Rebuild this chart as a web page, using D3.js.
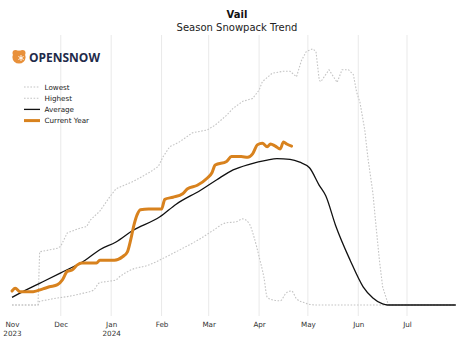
<!DOCTYPE html>
<html><head><meta charset="utf-8">
<script src="https://cdn.jsdelivr.net/npm/d3@7"></script>
<style>
html,body{margin:0;padding:0;background:#fff;}
svg{display:block;}
</style></head>
<body>
<svg id="chart" width="474" height="355"></svg>
<script>
// ---- Data (snow water equivalent, inches; day = days since season start) ----
const seasonStart = "2023-11-01";
const seasonEndDay = 273;
const monthTicks = ["Nov","Dec","Jan","Feb","Mar","Apr","May","Jun","Jul"];
const monthTickDays = [0,30,61,92,121,152,182,213,243];
const yearTickLabels = {"Nov":"2023","Jan":"2024"};

const averageDays   = [0,10,17,30,45,54,64,74,91,101,116,126,136,146,157,163,171,177,183,189,193,199,208,216,222,228,231,273];
const averageValues = [1.1,2.3,3.1,4.6,6.4,7.9,9.0,10.6,12.6,14.4,16.4,17.9,19.3,20.1,20.7,20.9,20.8,20.4,19.6,17.1,15.6,11.4,6.4,2.6,1.0,0.15,0,0];

const currentDays   = [0,2,5,13,19,23,28,31,34,37,40,43,52,54,63,68,71,73,75,77,79,84,92,94,99,105,108,114,120,123,125,132,135,141,145,148,151,154,157,159,162,165,167,169,172];
const currentValues = [2.0,2.4,1.9,1.9,2.3,2.6,2.9,3.6,4.8,5.0,5.7,6.0,6.0,6.4,6.4,6.9,7.6,9.3,11.4,12.9,13.6,13.7,13.7,15.1,15.4,15.9,16.6,17.1,18.1,18.9,20.0,20.5,21.2,21.2,21.1,21.6,22.9,23.1,22.6,23.0,22.7,22.3,23.3,23.0,22.7];

const highestDays   = [0,16,17,28,30,34,42,46,48,54,60,64,69,75,85,90,93,97,103,111,120,125,132,136,142,148,152,154,160,167,171,175,178,181,185,187,189,190,195,200,203,207,210,212,214,217,219,222,224,226,228,231,232,273];
const highestValues = [0,0,7.6,8.1,8.4,10.3,11.0,11.2,12.1,13.4,15.4,16.6,17.1,17.7,19.0,19.8,21.2,22.6,23.3,24.6,25.0,25.7,27.1,28.1,29.1,29.5,30.7,31.9,33.1,33.4,33.4,32.6,34.9,36.2,36.6,36.2,32.1,31.9,33.6,31.8,33.6,33.6,32.9,30.4,29.0,25.0,20.9,16.0,11.1,6.4,2.6,0.4,0,0];

const lowestDays    = [0,16,17,21,28,34,44,50,54,60,64,66,73,84,95,105,116,124,131,138,142,146,149,152,155,157,161,165,169,172,175,180,187,273];
const lowestValues  = [0,0,0.5,0.7,1.0,1.2,1.7,2.1,3.2,3.4,3.6,4.0,5.0,5.7,6.9,8.1,9.5,10.7,11.7,11.9,12.3,11.6,9.6,6.9,3.9,1.1,0.7,0.6,1.8,2.0,0.9,0.3,0,0];

const legendLabels = ["Lowest","Highest","Average","Current Year"];

// ---- Setup ----
const svg = d3.select("#chart");
const font = "'DejaVu Sans', sans-serif";
const start = new Date(seasonStart + "T00:00:00");
const dayToDate = d => d3.timeDay.offset(start, d);

const x = d3.scaleTime()
  .domain([start, dayToDate(seasonEndDay)])
  .range([12, 455.8]);
const y = d3.scaleLinear().domain([0, 38.57]).range([305, 35]);

const plotTop = 35, plotBottom = 316;

// gridlines (vertical, at month ticks except first)
svg.append("g").selectAll("line")
  .data(monthTickDays.slice(1))
  .join("line")
  .attr("x1", d => x(dayToDate(d))).attr("x2", d => x(dayToDate(d)))
  .attr("y1", plotTop).attr("y2", plotBottom)
  .attr("stroke", "#e9e9e9").attr("stroke-width", 1);

// axis labels
const xAxis = d3.axisBottom(x)
  .tickValues(monthTickDays.map(dayToDate))
  .tickFormat((d, i) => monthTicks[i])
  .tickSize(0).tickPadding(0);
const gx = svg.append("g").attr("transform", `translate(0,${plotBottom})`).call(xAxis);
gx.select(".domain").remove();
gx.selectAll("text")
  .attr("y", 10.5).attr("dy", 0)
  .attr("font-family", font).attr("font-size", 7.2).attr("fill", "#333");
gx.selectAll(".tick").each(function(d, i) {
  const lab = yearTickLabels[monthTicks[i]];
  if (lab) {
    d3.select(this).append("text")
      .attr("y", 20).attr("text-anchor", "middle")
      .attr("font-family", font).attr("font-size", 7.2).attr("fill", "#333")
      .text(lab);
  }
});

// lines
const mk = (days, vals) => days.map((d, i) => ({date: dayToDate(d), v: vals[i]}));
const lineLin = d3.line().x(d => x(d.date)).y(d => y(d.v));
const lineSmooth = d3.line().x(d => x(d.date)).y(d => y(d.v)).curve(d3.curveMonotoneX);

const dotted = {stroke: "#c4c4c4", width: 1.1, dash: "1.6,1.6"};

svg.append("path").datum(mk(lowestDays, lowestValues))
  .attr("d", lineSmooth).attr("fill", "none")
  .attr("stroke", dotted.stroke).attr("stroke-width", dotted.width).attr("stroke-dasharray", dotted.dash);
svg.append("path").datum(mk(highestDays, highestValues))
  .attr("d", lineLin).attr("fill", "none")
  .attr("stroke", dotted.stroke).attr("stroke-width", dotted.width).attr("stroke-dasharray", dotted.dash);
svg.append("path").datum(mk(averageDays, averageValues))
  .attr("d", lineSmooth).attr("fill", "none")
  .attr("stroke", "#111").attr("stroke-width", 1.3);
svg.append("path").datum(mk(currentDays, currentValues))
  .attr("d", lineSmooth).attr("fill", "none")
  .attr("stroke", "#d8821e").attr("stroke-width", 3).attr("stroke-linejoin", "round").attr("stroke-linecap", "round");

// title
svg.append("text").attr("x", 237).attr("y", 17.5).attr("text-anchor", "middle")
  .attr("font-family", font).attr("font-weight", "bold").attr("font-size", 10).attr("fill", "#111")
  .text("Vail");
svg.append("text").attr("x", 237).attr("y", 30.5).attr("text-anchor", "middle")
  .attr("font-family", font).attr("font-size", 10).attr("fill", "#222")
  .text("Season Snowpack Trend");

// logo
const logo = svg.append("g").attr("transform", "translate(19,57)");
logo.append("circle").attr("r", 6.6).attr("fill", "#e8903a");
logo.append("circle").attr("cx", -3.5).attr("cy", -4).attr("r", 3).attr("fill", "#e8903a");
logo.append("circle").attr("cx", 3.5).attr("cy", -4).attr("r", 3).attr("fill", "#e8903a");
logo.append("path").attr("d", "M0,-3 L0,3 M-2.6,-1.5 L2.6,1.5 M-2.6,1.5 L2.6,-1.5")
  .attr("stroke", "#fff").attr("stroke-width", 0.9).attr("transform", "translate(2,1)");
svg.append("text").attr("x", 29).attr("y", 61.5)
  .attr("font-family", "'Open Sans', sans-serif").attr("font-weight", 700).attr("font-size", 13)
  .attr("fill", "#1f2b4a").attr("textLength", 71).attr("lengthAdjust", "spacingAndGlyphs")
  .text("OPENSNOW");

// legend
const legendStyles = [
  {stroke: dotted.stroke, width: 1.1, dash: dotted.dash},
  {stroke: dotted.stroke, width: 1.1, dash: dotted.dash},
  {stroke: "#111", width: 1.3, dash: null},
  {stroke: "#d8821e", width: 3, dash: null}
];
const lg = svg.append("g");
legendLabels.forEach((lab, i) => {
  const cy = 87 + i * 11.2;
  const s = legendStyles[i];
  lg.append("line").attr("x1", 24).attr("x2", 40).attr("y1", cy).attr("y2", cy)
    .attr("stroke", s.stroke).attr("stroke-width", s.width)
    .attr("stroke-dasharray", s.dash);
  lg.append("text").attr("x", 44.5).attr("y", cy + 2.6)
    .attr("font-family", font).attr("font-size", 7.2).attr("fill", "#222").text(lab);
});
</script>
</body></html>
